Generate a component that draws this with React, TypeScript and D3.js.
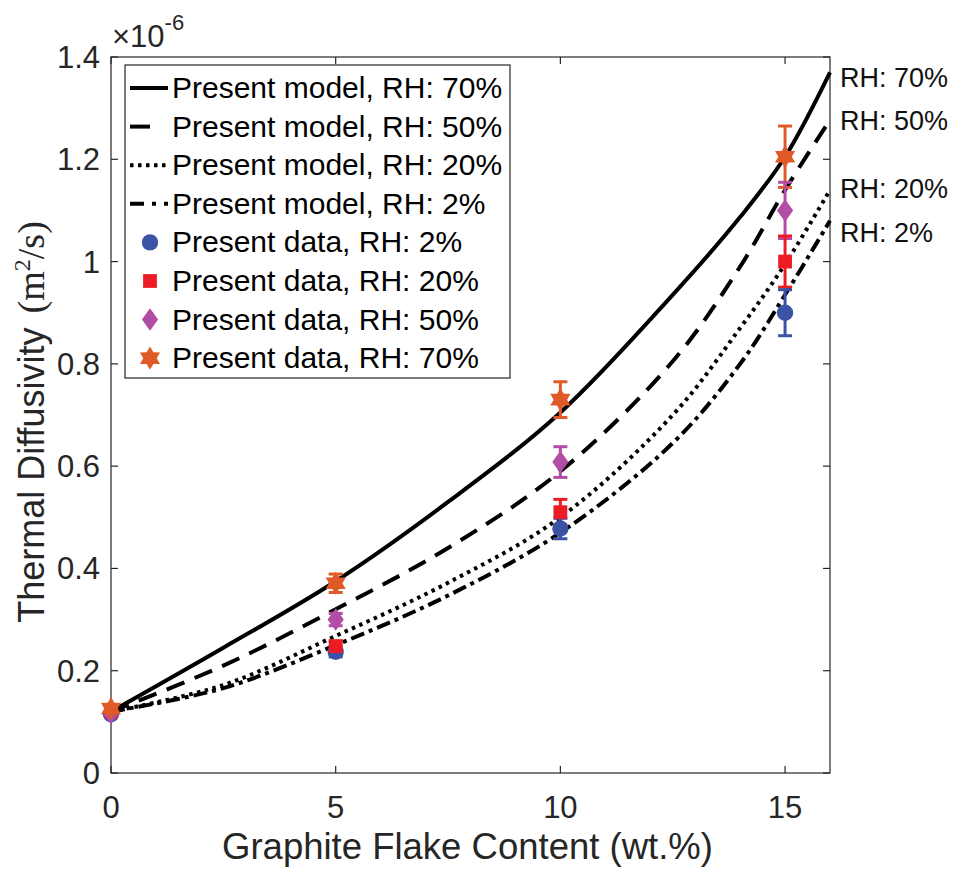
import React from "react";
import * as d3 from "d3";

// ---- data ----
const modelX = [0, 2.5, 5, 7.5, 10, 12.5, 14, 15, 16];
const model70 = [0.12, 0.245, 0.375, 0.53, 0.705, 0.935, 1.087, 1.205, 1.37];
const model50 = [0.12, 0.21, 0.32, 0.44, 0.59, 0.805, 0.99, 1.14, 1.277];
const model20 = [0.12, 0.172, 0.268, 0.372, 0.5, 0.7, 0.87, 0.995, 1.14];
const model2 = [0.12, 0.166, 0.25, 0.347, 0.47, 0.645, 0.8, 0.935, 1.08];

const dataX = [0, 5, 10, 15];
const data2 = [0.115, 0.237, 0.478, 0.9];
const err2 = [0.004, 0.01, 0.02, 0.045];
const data20 = [0.12, 0.248, 0.51, 1.0];
const err20 = [0.004, 0.01, 0.025, 0.05];
const data50 = [0.117, 0.3, 0.608, 1.1];
const err50 = [0.004, 0.012, 0.03, 0.055];
const data70 = [0.126, 0.371, 0.73, 1.205];
const err70 = [0.004, 0.018, 0.035, 0.06];

const xTicks = [0, 5, 10, 15];
const yTicks = [0, 0.2, 0.4, 0.6, 0.8, 1, 1.2, 1.4];
const modelLabels = ["RH: 70%", "RH: 50%", "RH: 20%", "RH: 2%"];
const legendLabels = [
  "Present model, RH: 70%",
  "Present model, RH: 50%",
  "Present model, RH: 20%",
  "Present model, RH: 2%",
  "Present data, RH: 2%",
  "Present data, RH: 20%",
  "Present data, RH: 50%",
  "Present data, RH: 70%",
];

// ---- layout ----
const W = 954, H = 871;
const L = 111, R = 830, T = 57, B = 773;
const FONT = "'Liberation Sans', Arial, Helvetica, sans-serif";
const AX = "#262626";

const xs = d3.scaleLinear().domain([0, 16]).range([L, R]);
const ys = d3.scaleLinear().domain([0, 1.4]).range([B, T]);

const lineGen = d3
  .line<[number, number]>()
  .x((d) => xs(d[0]))
  .y((d) => ys(d[1]))
  .curve(d3.curveCatmullRom.alpha(0.5));

const models = [
  { vals: model70, dash: "none", label: modelLabels[0] },
  { vals: model50, dash: "19,11", label: modelLabels[1] },
  { vals: model20, dash: "3.5,4.5", label: modelLabels[2] },
  { vals: model2, dash: "14,5,4,5", label: modelLabels[3] },
];

const hexagram = {
  draw(ctx: any, size: number) {
    const r = Math.sqrt(size) * 0.62;
    const ri = r * 0.58;
    for (let i = 0; i < 12; i++) {
      const a = (Math.PI / 6) * i - Math.PI / 2;
      const rr = i % 2 === 0 ? r : ri;
      const px = Math.cos(a) * rr, py = Math.sin(a) * rr;
      if (i === 0) ctx.moveTo(px, py);
      else ctx.lineTo(px, py);
    }
    ctx.closePath();
  },
};
const diamondT = {
  draw(ctx: any, size: number) {
    const h = Math.sqrt(size) * 0.62;
    const w = h * 0.72;
    ctx.moveTo(0, -h);
    ctx.lineTo(w, 0);
    ctx.lineTo(0, h);
    ctx.lineTo(-w, 0);
    ctx.closePath();
  },
};

const series = [
  { vals: data2, err: err2, color: "#3A53A4", sym: d3.symbolCircle, size: 210 },
  { vals: data20, err: err20, color: "#ED1C24", sym: d3.symbolSquare, size: 190 },
  { vals: data50, err: err50, color: "#B24DA6", sym: diamondT, size: 330 },
  { vals: data70, err: err70, color: "#E05A27", sym: hexagram, size: 350 },
];

export default function App() {
  const legendRowY = (i: number) => 98 + i * 38.6;
  return (
    <svg
      width={W}
      height={H}
      style={{ position: "absolute", left: 0, top: 0, background: "#fff" }}
      fontFamily={FONT}
    >
      <rect x={0} y={0} width={W} height={H} fill="#fff" />
      {/* axes box */}
      <rect x={L} y={T} width={R - L} height={B - T} fill="none" stroke={AX} strokeWidth={1.2} />
      {xTicks.map((t) => (
        <g key={"xt" + t}>
          <line x1={xs(t)} x2={xs(t)} y1={B} y2={B - 7} stroke={AX} strokeWidth={1.2} />
          <line x1={xs(t)} x2={xs(t)} y1={T} y2={T + 7} stroke={AX} strokeWidth={1.2} />
          <text x={xs(t)} y={818} textAnchor="middle" fontSize={31} fill={AX}>
            {t}
          </text>
        </g>
      ))}
      {yTicks.map((t) => (
        <g key={"yt" + t}>
          <line x1={L} x2={L + 7} y1={ys(t)} y2={ys(t)} stroke={AX} strokeWidth={1.2} />
          <line x1={R} x2={R - 7} y1={ys(t)} y2={ys(t)} stroke={AX} strokeWidth={1.2} />
          <text x={100} y={ys(t) + 11} textAnchor="end" fontSize={31} fill={AX}>
            {d3.format("~g")(t)}
          </text>
        </g>
      ))}
      {/* exponent */}
      <text x={112} y={47} fontSize={31} fill={AX}>
        ×10
        <tspan fontSize={22} dy={-17}>-6</tspan>
      </text>
      {/* axis labels */}
      <text x={(L + R) / 2 - 3} y={859} textAnchor="middle" fontSize={36.5} fill={AX}>
        Graphite Flake Content (wt.%)
      </text>
      <text
        transform={`translate(44, 422) rotate(-90)`}
        textAnchor="middle"
        fontSize={36}
        fill={AX}
      >
        Thermal Diffusivity
        <tspan dx={14} fontFamily="'Liberation Serif', 'Times New Roman', serif" fontSize={38}>
          (m<tspan fontSize={24} dy={-14}>2</tspan>
          <tspan dy={14}>/s)</tspan>
        </tspan>
      </text>

      {/* model lines */}
      {models.map((m, i) => (
        <path
          key={"m" + i}
          d={lineGen(modelX.map((x, j) => [x, m.vals[j]] as [number, number])) || ""}
          fill="none"
          stroke="#000"
          strokeWidth={4}
          strokeDasharray={m.dash}
        />
      ))}
      {/* right labels */}
      {models.map((m, i) => (
        <text key={"ml" + i} x={840} y={[87, 130, 198, 242][i]} fontSize={27} fill="#111">
          {m.label}
        </text>
      ))}

      {/* error bars */}
      {series
        .slice()
        .reverse()
        .map((s, si) => (
          <g key={"e" + si} stroke={s.color} strokeWidth={3}>
            {dataX.map((x, j) => {
              const cx = xs(x);
              const y1 = ys(s.vals[j] + s.err[j]);
              const y2 = ys(s.vals[j] - s.err[j]);
              return (
                <g key={j}>
                  <line x1={cx} x2={cx} y1={y1} y2={y2} />
                  <line x1={cx - 7} x2={cx + 7} y1={y1} y2={y1} />
                  <line x1={cx - 7} x2={cx + 7} y1={y2} y2={y2} />
                </g>
              );
            })}
          </g>
        ))}
      {/* markers */}
      {series.map((s, si) => (
        <g key={"p" + si} fill={s.color}>
          {dataX.map((x, j) => (
            <path
              key={j}
              transform={`translate(${xs(x)},${ys(s.vals[j])})`}
              d={d3.symbol().type(s.sym as any).size(s.size)() || ""}
            />
          ))}
        </g>
      ))}

      {/* legend */}
      <rect x={125} y={65} width={385} height={313} fill="#fff" stroke={AX} strokeWidth={1.2} />
      {legendLabels.map((lab, i) => (
        <text key={"lt" + i} x={172} y={legendRowY(i)} fontSize={30} fill="#000">
          {lab}
        </text>
      ))}
      {models.map((m, i) => (
        <line
          key={"ll" + i}
          x1={130}
          x2={168}
          y1={legendRowY(i) - 10}
          y2={legendRowY(i) - 10}
          stroke="#000"
          strokeWidth={4}
          strokeDasharray={i === 1 ? "20,30" : i === 3 ? "14,8,4,8" : m.dash}
        />
      ))}
      {series.map((s, i) => (
        <path
          key={"lm" + i}
          fill={s.color}
          transform={`translate(150,${legendRowY(i + 4) - 10})`}
          d={d3.symbol().type(s.sym as any).size(s.size)() || ""}
        />
      ))}
    </svg>
  );
}
